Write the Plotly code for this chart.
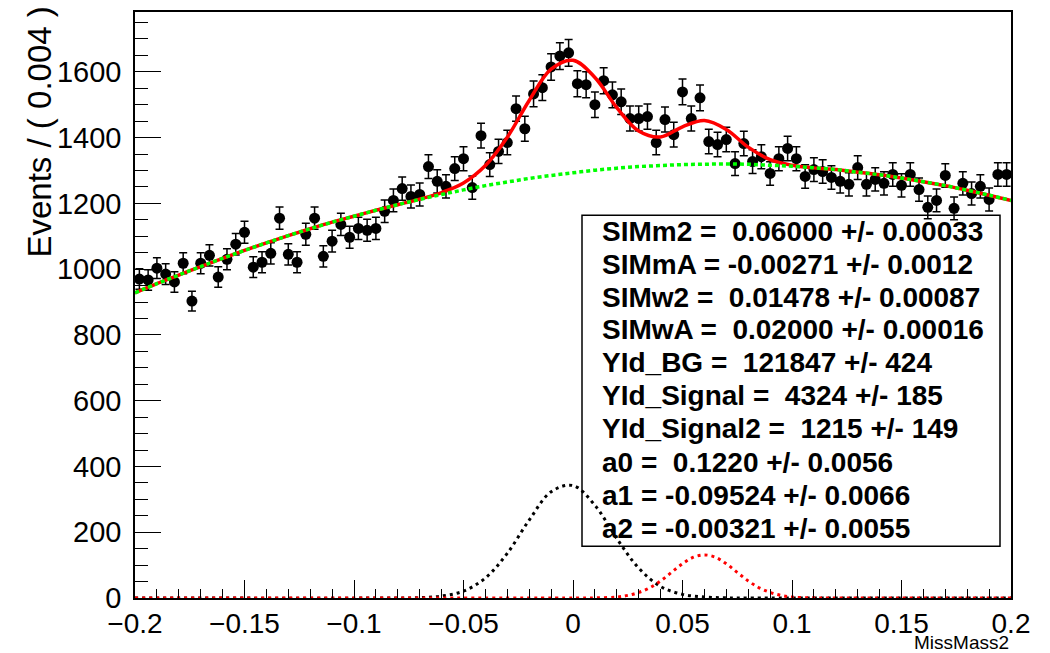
import numpy as np
import plotly.graph_objects as go

# ---------------- data ----------------
x_low, x_high, n_bins = -0.2, 0.2, 100
bin_width = (x_high - x_low) / n_bins
bin_centers = np.round(x_low + bin_width * (np.arange(n_bins) + 0.5), 4)

counts = [970, 967, 1003, 985, 961, 1018, 903, 1018, 1042, 976,
          1030, 1076, 1112, 1006, 1021, 1048, 1155, 1045, 1021, 1106,
          1155, 1039, 1085, 1136, 1097, 1124, 1118, 1124, 1176, 1209,
          1245, 1221, 1227, 1312, 1267, 1252, 1306, 1336, 1248, 1406,
          1318, 1358, 1385, 1488, 1427, 1533, 1552, 1615, 1648, 1658,
          1564, 1561, 1500, 1573, 1530, 1509, 1458, 1458, 1464, 1385,
          1455, 1409, 1539, 1458, 1521, 1388, 1379, 1394, 1321, 1382,
          1327, 1342, 1291, 1336, 1367, 1336, 1282, 1303, 1297, 1279,
          1267, 1258, 1309, 1258, 1273, 1261, 1288, 1255, 1288, 1242,
          1188, 1209, 1285, 1185, 1261, 1230, 1252, 1212, 1288, 1288]

curve_x = [-0.20, -0.19, -0.18, -0.17, -0.16, -0.15, -0.14, -0.13, -0.12, -0.11,
           -0.10, -0.09, -0.08, -0.07, -0.06, -0.05, -0.04, -0.03, -0.02, -0.01,
           0.00, 0.01, 0.02, 0.03, 0.04, 0.05, 0.06, 0.07, 0.08, 0.09,
           0.10, 0.11, 0.12, 0.13, 0.14, 0.15, 0.16, 0.17, 0.18, 0.19, 0.20]

background = [928, 956, 982, 1008, 1033, 1057, 1080, 1102, 1123, 1143,
              1161, 1179, 1196, 1212, 1227, 1241, 1254, 1265, 1276, 1285,
              1293, 1301, 1307, 1312, 1315, 1318, 1319, 1320, 1319, 1316,
              1313, 1308, 1303, 1295, 1287, 1277, 1266, 1254, 1240, 1225, 1209]

total = [928, 956, 982, 1008, 1033, 1057, 1080, 1102, 1123, 1143,
         1161, 1179, 1196, 1213, 1233, 1262, 1315, 1401, 1513, 1608,
         1635, 1583, 1491, 1420, 1402, 1433, 1452, 1425, 1371, 1333,
         1316, 1308, 1303, 1295, 1287, 1277, 1266, 1254, 1240, 1225, 1209]

sigA_x = [-0.20, -0.08, -0.07, -0.06, -0.05, -0.04, -0.03, -0.02, -0.01, 0.00,
          0.01, 0.02, 0.03, 0.04, 0.05, 0.06, 0.07, 0.08, 0.20]
sigA_y = [0, 0, 1, 6, 21, 61, 136, 237, 323, 342,
          282, 181, 91, 35, 11, 3, 0.5, 0, 0]

sigB_x = [-0.20, 0.00, 0.01, 0.02, 0.025, 0.03, 0.035, 0.04, 0.045, 0.05, 0.055,
          0.06, 0.065, 0.07, 0.075, 0.08, 0.085, 0.09, 0.095, 0.10, 0.11, 0.12, 0.20]
sigB_y = [0, 0, 0.4, 3, 8, 17, 31, 52, 78, 104, 124,
          131, 124, 104, 78, 52, 31, 17, 8, 3, 0.4, 0, 0]

param_lines = [
    "SIMm2 =  0.06000 +/- 0.00033",
    "SIMmA = -0.00271 +/- 0.0012",
    "SIMw2 =  0.01478 +/- 0.00087",
    "SIMwA =  0.02000 +/- 0.00016",
    "YId_BG =  121847 +/- 424",
    "YId_Signal =  4324 +/- 185",
    "YId_Signal2 =  1215 +/- 149",
    "a0 =  0.1220 +/- 0.0056",
    "a1 = -0.09524 +/- 0.0066",
    "a2 = -0.00321 +/- 0.0055",
]

# ---------------- figure ----------------
W, H = 1050, 653
L, R, T, B = 135, 39, 10, 55
plot_w, plot_h = W - L - R, H - T - B

def px_x(p):
    return (p - L) / plot_w

def px_y(p):
    return (H - B - p) / plot_h

FONT = "Liberation Sans, Arial, sans-serif"

fig = go.Figure()

fig.add_trace(go.Scatter(
    x=bin_centers, y=counts, mode="markers",
    marker=dict(color="black", size=11),
    error_y=dict(type="sqrt", color="black", thickness=1.5, width=4),
    showlegend=False, hoverinfo="skip"))

fig.add_trace(go.Scatter(
    x=curve_x, y=total, mode="lines",
    line=dict(color="#ff0000", width=3.5, shape="spline"),
    showlegend=False))

fig.add_trace(go.Scatter(
    x=curve_x, y=background, mode="lines",
    line=dict(color="#00ff00", width=3.5, dash="4px,3px", shape="spline"),
    showlegend=False))

fig.add_trace(go.Scatter(
    x=sigA_x, y=sigA_y, mode="lines",
    line=dict(color="black", width=3, dash="3px,4px", shape="spline"),
    showlegend=False))

fig.add_trace(go.Scatter(
    x=sigB_x, y=sigB_y, mode="lines",
    line=dict(color="#ff0000", width=3, dash="3px,4px", shape="spline"),
    showlegend=False))

# parameter box
fig.add_shape(type="rect", xref="paper", yref="paper",
              x0=px_x(582), x1=px_x(1000), y0=px_y(546), y1=px_y(214),
              line=dict(color="black", width=1.5), fillcolor="rgba(0,0,0,0)",
              layer="above")

line_y = [230, 263, 296, 329, 362, 395, 428, 462, 495, 528]
for txt, yy in zip(param_lines, line_y):
    fig.add_annotation(text="<b>" + txt.replace("  ", "\u00a0\u00a0") + "</b>",
                       xref="paper", yref="paper", x=px_x(600), y=px_y(yy),
                       xanchor="left", yanchor="middle", showarrow=False,
                       font=dict(family=FONT, size=28, color="black"))

# axis titles
fig.add_annotation(text="Events / ( 0.004 )", xref="paper", yref="paper",
                   x=px_x(40), y=px_y(3), xanchor="center", yanchor="top",
                   textangle=-90, showarrow=False,
                   font=dict(family=FONT, size=33, color="black"))
fig.add_annotation(text="MissMass2", xref="paper", yref="paper",
                   x=px_x(1011), y=px_y(643), xanchor="right", yanchor="middle",
                   showarrow=False, font=dict(family=FONT, size=19, color="black"))

fig.update_layout(
    width=W, height=H,
    margin=dict(l=L, r=R, t=T, b=B, pad=0),
    paper_bgcolor="white", plot_bgcolor="white",
    font=dict(family=FONT, color="black"),
    showlegend=False,
    xaxis=dict(range=[x_low, x_high], tick0=-0.2, dtick=0.05,
               ticks="inside", ticklen=18, tickwidth=1, tickcolor="black",
               minor=dict(dtick=0.01, ticks="inside", ticklen=9, tickcolor="black", tickwidth=1),
               showline=True, linecolor="black", linewidth=1.5, mirror=True,
               showgrid=False, zeroline=False, ticklabelstandoff=0,
               tickfont=dict(family=FONT, size=28, color="black")),
    yaxis=dict(range=[0, 1782], tick0=0, dtick=200,
               ticks="inside", ticklen=26, tickwidth=1, tickcolor="black",
               minor=dict(dtick=50, ticks="inside", ticklen=13, tickcolor="black", tickwidth=1),
               showline=True, linecolor="black", linewidth=1.5, mirror=True,
               showgrid=False, zeroline=False, ticklabelstandoff=6,
               tickfont=dict(family=FONT, size=29, color="black")),
)

fig.write_html("out.html")
